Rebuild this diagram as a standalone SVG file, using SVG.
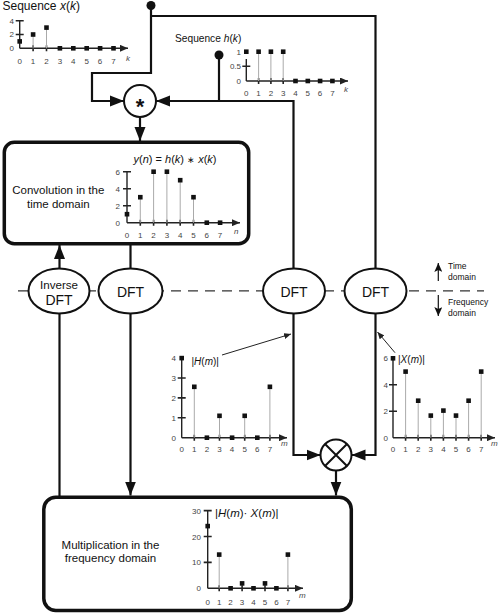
<svg xmlns="http://www.w3.org/2000/svg" width="500" height="614" viewBox="0 0 500 614">
<style>
text{font-family:"Liberation Sans",Arial,sans-serif;fill:#111}
.lbl{font-size:11.5px;text-anchor:middle}
.tk{font-size:8px;fill:#444}
.m{text-anchor:middle}
.e{text-anchor:end}
.it{font-style:italic}
.conn{fill:none;stroke:#111;stroke-width:2.2}
.box{fill:#fff;stroke:#111;stroke-width:3.5}
.ell{fill:#fff;stroke:#111;stroke-width:2}
.ax{fill:none;stroke:#222;stroke-width:1.4}
.tick{fill:none;stroke:#222;stroke-width:1.6}
.stem{fill:none;stroke:#aaa;stroke-width:1}
.pt{fill:#111}
.dash{stroke:#333;stroke-width:1.3;stroke-dasharray:10 7;fill:none}
.ann{stroke:#222;stroke-width:1;fill:none}
</style>
<defs>
<marker id="a" markerUnits="userSpaceOnUse" markerWidth="15" markerHeight="12" refX="14" refY="6" orient="auto"><path d="M0,0.5 L14,6 L0,11.5 z" fill="#111"/></marker>
<marker id="sa" markerUnits="userSpaceOnUse" markerWidth="9" markerHeight="7" refX="8" refY="3.5" orient="auto"><path d="M0,0 L8,3.5 L0,7 z" fill="#222"/></marker>
<marker id="ta" markerUnits="userSpaceOnUse" markerWidth="8" markerHeight="6" refX="7" refY="3" orient="auto"><path d="M0,0 L7,3 L0,6 z" fill="#222"/></marker>
<marker id="da" markerUnits="userSpaceOnUse" markerWidth="10" markerHeight="8" refX="9" refY="4" orient="auto"><path d="M0,0 L9,4 L0,8 L2,4 z" fill="#111"/></marker>
<rect id="sq" x="-2.3" y="-2.3" width="4.6" height="4.6" fill="#111"/>
</defs>
<rect width="500" height="614" fill="#fff"/>

<!-- domain divider -->
<g id="divider">
<line class="dash" x1="18" y1="290.8" x2="484" y2="290.8"/>
<line x1="438.3" y1="281" x2="438.3" y2="263" stroke="#111" stroke-width="1.2" marker-end="url(#da)"/>
<line x1="438.3" y1="295" x2="438.3" y2="316" stroke="#111" stroke-width="1.2" marker-end="url(#da)"/>
<text x="448" y="268.5" font-size="8.5" fill="#444">Time</text>
<text x="448" y="279.5" font-size="8.5" fill="#444">domain</text>
<text x="448" y="304.5" font-size="8.5" fill="#444">Frequency</text>
<text x="448" y="315.5" font-size="8.5" fill="#444">domain</text>
</g>

<g id="connectors">
<circle cx="151" cy="5.5" r="4.5" fill="#111"/>
<path class="conn" d="M151,5.5 V73 H92 V101 H124" marker-end="url(#a)"/>
<path class="conn" d="M151,16 H375.5 V268.5"/>
<circle cx="219" cy="55" r="4.5" fill="#111"/>
<path class="conn" d="M219,55 V101"/>
<path class="conn" d="M293.5,268.5 V101 H156" marker-end="url(#a)"/>
<path class="conn" d="M140,117 V141" marker-end="url(#a)"/>
<path class="conn" d="M59.5,268.5 V245" marker-end="url(#a)"/>
<path class="conn" d="M59.5,313.5 V496"/>
<path class="conn" d="M130.5,244 V268.5"/>
<path class="conn" d="M130.5,313.5 V495.5" marker-end="url(#a)"/>
<path class="conn" d="M293.5,313.5 V455 H320.5" marker-end="url(#a)"/>
<path class="conn" d="M375.5,313.5 V455 H351.5" marker-end="url(#a)"/>
<path class="conn" d="M336,470.5 V495.5" marker-end="url(#a)"/>
<line class="ann" x1="222" y1="355" x2="291" y2="334" marker-end="url(#ta)"/>
<line class="ann" x1="395" y1="352.7" x2="377.5" y2="332" marker-end="url(#ta)"/>
</g>

<!-- x(k) -->
<g id="seq-x">
<text x="2.5" y="10" font-size="12">Sequence <tspan class="it">x</tspan>(<tspan class="it">k</tspan>)</text>
<path class="ax" d="M19.7,20.7 V48.3"/>
<line class="ax" x1="19.7" y1="48.3" x2="128" y2="48.3" marker-end="url(#sa)"/>
<path class="tick" d="M15.7,20.7 H23.7 M15.7,34.5 H23.7 M33.1,45.3 V51.3 M46.5,45.3 V51.3"/>
<path class="stem" d="M33.1,34.5 V48.3 M46.5,27.6 V48.3"/>
<use href="#sq" x="19.7" y="41.4"/><use href="#sq" x="33.1" y="34.5"/><use href="#sq" x="46.5" y="27.6"/><use href="#sq" x="59.9" y="48.3"/><use href="#sq" x="73.3" y="48.3"/><use href="#sq" x="86.7" y="48.3"/><use href="#sq" x="100.1" y="48.3"/><use href="#sq" x="113.5" y="48.3"/>
<text class="tk e" x="14" y="23.5">4</text><text class="tk e" x="14" y="37.3">2</text><text class="tk e" x="14" y="51">0</text>
<text class="tk m" x="19.7" y="63.5">0</text><text class="tk m" x="33.1" y="63.5">1</text><text class="tk m" x="46.5" y="63.5">2</text><text class="tk m" x="59.9" y="63.5">3</text><text class="tk m" x="73.3" y="63.5">4</text><text class="tk m" x="86.7" y="63.5">5</text><text class="tk m" x="100.1" y="63.5">6</text><text class="tk m" x="113.5" y="63.5">7</text>
<text class="tk it" x="126" y="61">k</text>
</g>

<!-- h(k) -->
<g id="seq-h">
<text x="175" y="42" font-size="10.2">Sequence <tspan class="it">h</tspan>(<tspan class="it">k</tspan>)</text>
<path class="ax" d="M246.3,59 V81"/>
<line class="ax" x1="246.3" y1="81" x2="348" y2="81" marker-end="url(#sa)"/>
<path class="tick" d="M242.3,66.3 H250.3 M258.6,78 V84 M270.9,78 V84 M283.2,78 V84"/>
<path class="stem" d="M258.6,51.7 V81 M270.9,51.7 V81 M283.2,51.7 V81"/>
<use href="#sq" x="246.3" y="51.7"/><use href="#sq" x="258.6" y="51.7"/><use href="#sq" x="270.9" y="51.7"/><use href="#sq" x="283.2" y="51.7"/><use href="#sq" x="295.5" y="81"/><use href="#sq" x="307.8" y="81"/><use href="#sq" x="320.1" y="81"/><use href="#sq" x="332.4" y="81"/>
<text class="tk e" x="241" y="54.5">1</text><text class="tk e" x="241" y="69">0.5</text><text class="tk e" x="241" y="84">0</text>
<text class="tk m" x="246.3" y="95.5">0</text><text class="tk m" x="258.6" y="95.5">1</text><text class="tk m" x="270.9" y="95.5">2</text><text class="tk m" x="283.2" y="95.5">3</text><text class="tk m" x="295.5" y="95.5">4</text><text class="tk m" x="307.8" y="95.5">5</text><text class="tk m" x="320.1" y="95.5">6</text><text class="tk m" x="332.4" y="95.5">7</text>
<text class="tk it" x="344" y="91.5">k</text>
</g>

<g id="conv-op">
<circle cx="140" cy="101" r="16" fill="#fff" stroke="#111" stroke-width="2"/>
<text x="140" y="114" font-size="22" font-weight="bold" text-anchor="middle">*</text>
</g>

<g id="conv-box">
<rect class="box" x="4.3" y="142.3" width="244.4" height="101.4" rx="10"/>
<text class="lbl" x="58.3" y="194">Convolution in the</text>
<text class="lbl" x="58.3" y="207.5">time domain</text>
<text x="175" y="162.5" font-size="11" text-anchor="middle"><tspan class="it">y</tspan>(<tspan class="it">n</tspan>) = <tspan class="it">h</tspan>(<tspan class="it">k</tspan>) <tspan font-size="9">∗</tspan> <tspan class="it">x</tspan>(<tspan class="it">k</tspan>)</text>
<path class="ax" d="M127,171.7 V222.7"/>
<line class="ax" x1="127" y1="222.7" x2="240" y2="222.7" marker-end="url(#sa)"/>
<path class="tick" d="M123,171.7 H131 M123,188.7 H131 M123,205.7 H131 M140.3,219.7 V225.7 M153.6,219.7 V225.7 M166.9,219.7 V225.7 M180.2,219.7 V225.7 M193.5,219.7 V225.7"/>
<path class="stem" d="M140.3,197.2 V222.7 M153.6,171.7 V222.7 M166.9,171.7 V222.7 M180.2,180.2 V222.7 M193.5,197.2 V222.7"/>
<use href="#sq" x="127" y="214.2"/><use href="#sq" x="140.3" y="197.2"/><use href="#sq" x="153.6" y="171.7"/><use href="#sq" x="166.9" y="171.7"/><use href="#sq" x="180.2" y="180.2"/><use href="#sq" x="193.5" y="197.2"/><use href="#sq" x="206.8" y="222.7"/><use href="#sq" x="220.1" y="222.7"/>
<text class="tk e" x="120" y="174.7">6</text><text class="tk e" x="120" y="191.7">4</text><text class="tk e" x="120" y="208.7">2</text><text class="tk e" x="120" y="225.7">0</text>
<text class="tk m" x="127" y="238">0</text><text class="tk m" x="140.3" y="238">1</text><text class="tk m" x="153.6" y="238">2</text><text class="tk m" x="166.9" y="238">3</text><text class="tk m" x="180.2" y="238">4</text><text class="tk m" x="193.5" y="238">5</text><text class="tk m" x="206.8" y="238">6</text><text class="tk m" x="220.1" y="238">7</text>
<text class="tk it" x="234" y="234">n</text>
</g>

<g id="idft">
<ellipse class="ell" cx="59" cy="291" rx="30.5" ry="22.5"/>
<text x="59" y="289" font-size="11.6" text-anchor="middle">Inverse</text>
<text x="59" y="305" font-size="14" text-anchor="middle">DFT</text>
</g>
<g id="dft1">
<ellipse class="ell" cx="130.5" cy="291" rx="32" ry="22.5"/>
<text x="130.5" y="296.5" font-size="14" text-anchor="middle">DFT</text>
</g>
<g id="dft2">
<ellipse class="ell" cx="294" cy="291" rx="31" ry="22.5"/>
<text x="294" y="296.5" font-size="14" text-anchor="middle">DFT</text>
</g>
<g id="dft3">
<ellipse class="ell" cx="375.5" cy="291" rx="31" ry="22.5"/>
<text x="375.5" y="296.5" font-size="14" text-anchor="middle">DFT</text>
</g>

<!-- |H(m)| -->
<g id="spec-h">
<text x="191.5" y="365" font-size="10">|<tspan class="it">H</tspan>(<tspan class="it">m</tspan>)|</text>
<path class="ax" d="M181.7,358 V437.7"/>
<line class="ax" x1="181.7" y1="437.7" x2="287" y2="437.7" marker-end="url(#sa)"/>
<path class="tick" d="M177.7,378 H185.7 M177.7,397.9 H185.7 M177.7,417.8 H185.7 M194.3,434.7 V440.7 M219.5,434.7 V440.7 M244.7,434.7 V440.7 M269.9,434.7 V440.7"/>
<path class="stem" d="M194.3,386.8 V437.7 M219.5,415.8 V437.7 M244.7,415.8 V437.7 M269.9,386.8 V437.7"/>
<use href="#sq" x="181.7" y="358.1"/><use href="#sq" x="194.3" y="386.8"/><use href="#sq" x="206.9" y="437.7"/><use href="#sq" x="219.5" y="415.8"/><use href="#sq" x="232.1" y="437.7"/><use href="#sq" x="244.7" y="415.8"/><use href="#sq" x="257.3" y="437.7"/><use href="#sq" x="269.9" y="386.8"/>
<text class="tk e" x="176" y="361">4</text><text class="tk e" x="176" y="381">3</text><text class="tk e" x="176" y="400.9">2</text><text class="tk e" x="176" y="420.8">1</text><text class="tk e" x="176" y="440.7">0</text>
<text class="tk m" x="181.7" y="452">0</text><text class="tk m" x="194.3" y="452">1</text><text class="tk m" x="206.9" y="452">2</text><text class="tk m" x="219.5" y="452">3</text><text class="tk m" x="232.1" y="452">4</text><text class="tk m" x="244.7" y="452">5</text><text class="tk m" x="257.3" y="452">6</text><text class="tk m" x="269.9" y="452">7</text>
<text class="tk it" x="281" y="446">m</text>
</g>

<!-- |X(m)| -->
<g id="spec-x">
<text x="398" y="363.3" font-size="10">|<tspan class="it">X</tspan>(<tspan class="it">m</tspan>)|</text>
<path class="ax" d="M393,358 V437.7"/>
<line class="ax" x1="393" y1="437.7" x2="495" y2="437.7" marker-end="url(#sa)"/>
<path class="tick" d="M389,384.8 H397 M389,411.2 H397 M405.6,434.7 V440.7 M418.2,434.7 V440.7 M430.8,434.7 V440.7 M443.4,434.7 V440.7 M456,434.7 V440.7 M468.6,434.7 V440.7 M481.2,434.7 V440.7"/>
<path class="stem" d="M405.6,371.6 V437.7 M418.2,400.7 V437.7 M430.8,415.6 V437.7 M443.4,410.6 V437.7 M456,415.6 V437.7 M468.6,400.7 V437.7 M481.2,371.6 V437.7"/>
<use href="#sq" x="393" y="358.3"/><use href="#sq" x="405.6" y="371.6"/><use href="#sq" x="418.2" y="400.7"/><use href="#sq" x="430.8" y="415.6"/><use href="#sq" x="443.4" y="410.6"/><use href="#sq" x="456" y="415.6"/><use href="#sq" x="468.6" y="400.7"/><use href="#sq" x="481.2" y="371.6"/>
<text class="tk e" x="388" y="361.3">6</text><text class="tk e" x="388" y="387.8">4</text><text class="tk e" x="388" y="414.2">2</text><text class="tk e" x="388" y="440.7">0</text>
<text class="tk m" x="393" y="452">0</text><text class="tk m" x="405.6" y="452">1</text><text class="tk m" x="418.2" y="452">2</text><text class="tk m" x="430.8" y="452">3</text><text class="tk m" x="443.4" y="452">4</text><text class="tk m" x="456" y="452">5</text><text class="tk m" x="468.6" y="452">6</text><text class="tk m" x="481.2" y="452">7</text>
<text class="tk it" x="491" y="446">m</text>
</g>

<g id="mult-op">
<circle cx="336" cy="455" r="15.5" fill="#fff" stroke="#111" stroke-width="2"/>
<path d="M325,444 L347,466 M347,444 L325,466" stroke="#111" stroke-width="2" fill="none"/>
</g>

<g id="mult-box">
<rect class="box" x="43.8" y="497.2" width="307.5" height="113.3" rx="12"/>
<text class="lbl" x="110.5" y="548.5">Multiplication in the</text>
<text class="lbl" x="110.5" y="562">frequency domain</text>
<text x="215" y="516.7" font-size="11.5">|<tspan class="it">H</tspan>(<tspan class="it">m</tspan>)· <tspan class="it">X</tspan>(<tspan class="it">m</tspan>)|</text>
<path class="ax" d="M207.7,510.6 V588.3"/>
<line class="ax" x1="207.7" y1="588.3" x2="303" y2="588.3" marker-end="url(#sa)"/>
<path class="tick" d="M203.7,510.6 H211.7 M203.7,536.5 H211.7 M203.7,562.4 H211.7 M219.2,585.3 V591.3 M242.1,585.3 V591.3 M265,585.3 V591.3 M287.9,585.3 V591.3"/>
<path class="stem" d="M219.2,554.6 V588.3 M287.9,554.6 V588.3"/>
<use href="#sq" x="207.7" y="526.1"/><use href="#sq" x="219.2" y="554.6"/><use href="#sq" x="230.6" y="588.3"/><use href="#sq" x="242.1" y="583.4"/><use href="#sq" x="253.5" y="588.3"/><use href="#sq" x="265" y="583.4"/><use href="#sq" x="276.4" y="588.3"/><use href="#sq" x="287.9" y="554.6"/>
<text class="tk e" x="201" y="513.6" font-size="7.5">30</text><text class="tk e" x="201" y="539.5" font-size="7.5">20</text><text class="tk e" x="201" y="565.4" font-size="7.5">10</text><text class="tk e" x="201" y="591.3" font-size="7.5">0</text>
<text class="tk m" x="207.7" y="604.5">0</text><text class="tk m" x="219.2" y="604.5">1</text><text class="tk m" x="230.6" y="604.5">2</text><text class="tk m" x="242.1" y="604.5">3</text><text class="tk m" x="253.5" y="604.5">4</text><text class="tk m" x="265" y="604.5">5</text><text class="tk m" x="276.4" y="604.5">6</text><text class="tk m" x="287.9" y="604.5">7</text>
<text class="tk it" x="299" y="598">m</text>
</g>
</svg>
